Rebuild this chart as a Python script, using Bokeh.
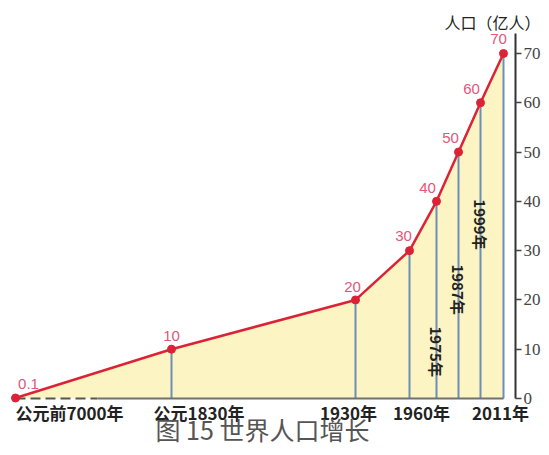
from bokeh.plotting import figure
from bokeh.models import Range1d, LinearAxis, FixedTicker, Label, ColumnDataSource
from bokeh.core.properties import value
from bokeh.embed import file_html
from bokeh.resources import INLINE

# ---- data ----
year_labels = ["公元前7000年", "公元1830年", "1930年", "1960年", "1975年", "1987年", "1999年", "2011年"]
population = [0.1, 10, 20, 30, 40, 50, 60, 70]          # 亿人
point_labels = ["0.1", "10", "20", "30", "40", "50", "60", "70"]
# schematic (non-linear) horizontal slot of each year on the drawing
x_slot = [15, 171, 355, 409, 436, 458, 480, 503]
y_ticks = [0, 10, 20, 30, 40, 50, 60, 70]

# ---- styles / label placement ----
pt_dx = [13, 0, -3, -6, -9, -8, -9, -5]
pt_dy = [-14, -13, -13, -15, -13, -14, -14, -14]
bottom_idx = [0, 1, 2, 3, 7]
bottom_align = ["left", "left", "center", "center", "center"]
bottom_dx = [0, -18, -7, 12, -3]
rot_idx = [4, 5, 6]
rot_height = [9.5, 22.1, 35.3]
dash_end = 97
axis_x = 515

RED = "#dc2236"
PINK = "#e2567a"
BLUE = "#6a8fb8"
YELLOW = "#fcf4c2"

p = figure(width=541, height=447,
           x_range=Range1d(0, 541), y_range=Range1d(-9.94, 80.75),
           x_axis_location=None, y_axis_location=None,
           output_backend="svg", toolbar_location=None, min_border=0)
p.grid.visible = False
p.outline_line_color = None
p.background_fill_color = "white"

src = ColumnDataSource(dict(x=x_slot, y=population, lab=point_labels,
                            dx=pt_dx, dy=pt_dy, base=[0] * len(x_slot)))

# yellow area under the curve
p.varea(x="x", y1="base", y2="y", source=src, fill_color=YELLOW)

# vertical drop lines
p.segment(x0=x_slot[1:], y0=[0] * (len(x_slot) - 1), x1=x_slot[1:], y1=population[1:],
          line_color=BLUE, line_width=2)

# base line: dashed then solid
p.line(x=[x_slot[0], dash_end], y=[0, 0], line_color="#555555", line_width=2, line_dash="10 5")
p.line(x=[dash_end, x_slot[-1]], y=[0, 0], line_color="#707070", line_width=2)

# red population line and points
p.line(x="x", y="y", source=src, line_color=RED, line_width=2.5)
p.scatter(x="x", y="y", source=src, size=8, fill_color=RED, line_color=RED)

# point value labels
p.text(x="x", y="y", text="lab", source=src, x_offset="dx", y_offset="dy",
       text_align="center", text_baseline="middle", text_color=PINK,
       text_font=value("Liberation Sans"), text_font_size="15px")

# bottom year labels
for i, al, dx in zip(bottom_idx, bottom_align, bottom_dx):
    p.text(x=[x_slot[i]], y=[0], text=[year_labels[i]], x_offset=dx, y_offset=1,
           text_align=al, text_baseline="top", text_color="#222222",
           text_font=value("Noto Sans CJK SC"), text_font_size="17px", text_font_style="bold")

# rotated year labels along drop lines
p.text(x=[x_slot[i] for i in rot_idx], y=rot_height, text=[year_labels[i] for i in rot_idx],
       angle=-1.5708, text_align="center", text_baseline="middle", text_color="#222222",
       text_font=value("Noto Sans CJK SC"), text_font_size="15px", text_font_style="bold")

# right axis
axis = LinearAxis(ticker=FixedTicker(ticks=y_ticks), bounds=(0, 74), fixed_location=axis_x,
                  axis_line_width=2, axis_line_color="#333333",
                  major_tick_out=6, major_tick_in=0, major_tick_line_color="#444444",
                  major_tick_line_width=1.5,
                  minor_tick_out=0, minor_tick_in=0,
                  major_label_standoff=2, major_label_text_font="Liberation Serif",
                  major_label_text_font_size="17px", major_label_text_color="#444444")
p.add_layout(axis, "right")

# axis title
p.add_layout(Label(x=492, y=76.3, text="人口（亿人）", text_align="center", text_baseline="middle",
                   text_font="Noto Sans CJK SC", text_font_size="16px", text_color="#222222"))

# caption
p.add_layout(Label(x=262, y=-6.1, text="图 15 世界人口增长", text_align="center", text_baseline="middle",
                   text_font="Noto Sans CJK SC", text_font_size="25px", text_color="#555555"))

open("out.html", "w").write(file_html(p, INLINE))
